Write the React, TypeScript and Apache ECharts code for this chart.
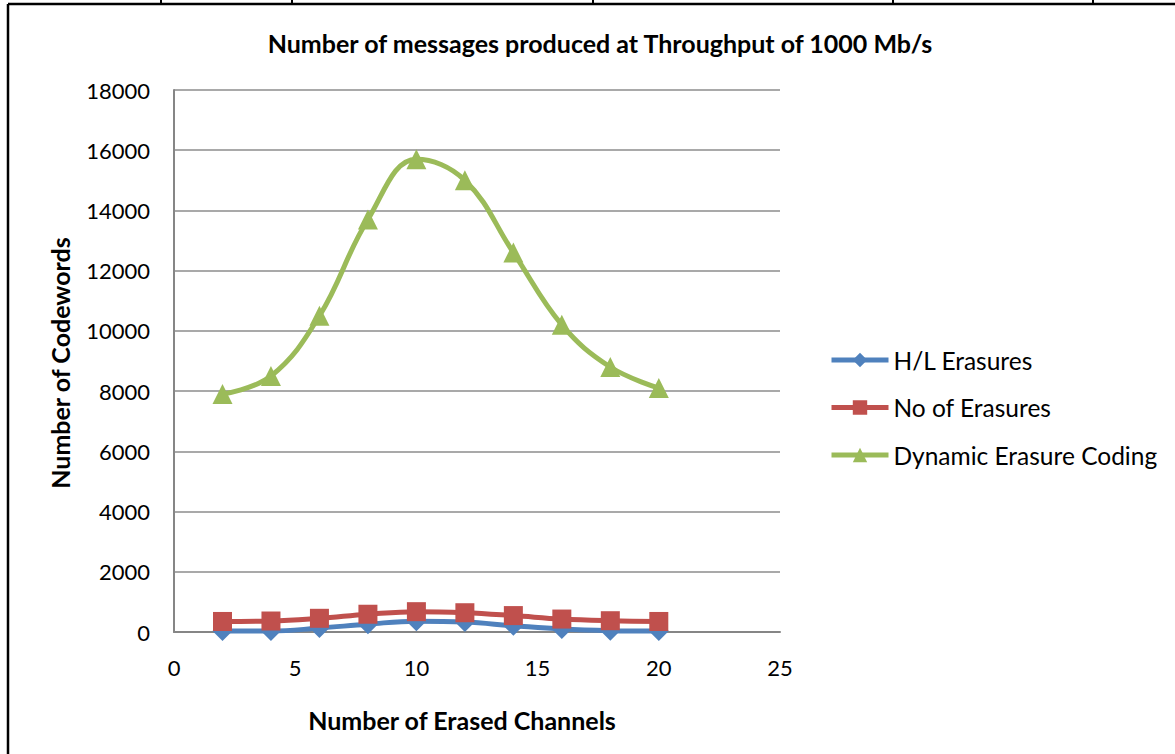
import React, { useEffect, useRef } from "react";
import * as echarts from "echarts";

const xValues = [2, 4, 6, 8, 10, 12, 14, 16, 18, 20];
const hlErasures = [30, 30, 130, 260, 360, 330, 210, 100, 45, 30];
const noOfErasures = [350, 365, 455, 590, 675, 640, 545, 430, 375, 350];
const dynamicErasure = [7900, 8500, 10500, 13700, 15700, 15000, 12600, 10200, 8800, 8100];
const seriesNames = ["H/L Erasures", "No of Erasures", "Dynamic Erasure Coding"];
const colors = ["#4F81BD", "#C0504D", "#9BBB59"];
const symbols = ["diamond", "rect", "triangle"];
const titleText = "Number of messages produced at Throughput of 1000 Mb/s";
const xTitle = "Number of Erased Channels";
const yTitle = "Number of Codewords";

const FONT = "Lato, 'Open Sans', sans-serif";

export default function App() {
  const ref = useRef<HTMLDivElement>(null);
  useEffect(() => {
    if (!ref.current) return;
    const chart = echarts.init(ref.current, null, { renderer: "svg" });
    const data = [hlErasures, noOfErasures, dynamicErasure];
    const tableXs = [161, 292, 593, 893, 1093];
    chart.setOption({
      animation: false,
      backgroundColor: "#ffffff",
      textStyle: { fontFamily: FONT },
      title: {
        text: titleText,
        left: 595,
        top: 25,
        textAlign: "center",
        textStyle: { fontFamily: FONT, fontWeight: "bold", fontSize: 25, color: "#000" },
      },
      grid: { left: 174, right: 395, top: 90, bottom: 122, containLabel: false },
      legend: {
        orient: "vertical",
        left: 824,
        top: 342,
        itemWidth: 57,
        itemHeight: 18,
        itemGap: 21.5,
        data: seriesNames,
        lineStyle: { width: 5 },
        textStyle: { fontFamily: FONT, fontSize: 24.5, color: "#000", lineHeight: 26 },
      },
      xAxis: {
        type: "value",
        min: 0,
        max: 25,
        interval: 5,
        axisLine: { show: true, lineStyle: { color: "#868686", width: 2 } },
        axisTick: { show: false },
        splitLine: { show: false },
        axisLabel: { fontFamily: FONT, fontSize: 22, color: "#000", margin: 24 },
      },
      yAxis: {
        type: "value",
        min: 0,
        max: 18000,
        interval: 2000,
        axisLine: { show: true, lineStyle: { color: "#868686", width: 2 } },
        axisTick: { show: false },
        splitLine: { show: true, lineStyle: { color: "#8c8c8c", width: 1.5 } },
        axisLabel: {
          fontFamily: FONT,
          fontSize: 22,
          color: "#000",
          margin: 24,
          formatter: (v: number) => String(v),
        },
      },
      graphic: [
        { type: "line", shape: { x1: 8, y1: 4, x2: 1175, y2: 4 }, style: { stroke: "#000", lineWidth: 2.5 } },
        { type: "line", shape: { x1: 8, y1: 4, x2: 8, y2: 754 }, style: { stroke: "#000", lineWidth: 2.5 } },
        ...tableXs.map((x) => ({
          type: "line",
          shape: { x1: x, y1: 0, x2: x, y2: 4 },
          style: { stroke: "#000", lineWidth: 2 },
        })),
        {
          type: "text",
          x: 462,
          y: 720,
          style: {
            text: xTitle,
            fontFamily: FONT,
            fontWeight: "bold",
            fontSize: 25,
            fill: "#000",
            align: "center",
            verticalAlign: "middle",
          },
        },
        {
          type: "text",
          x: 60,
          y: 363,
          rotation: Math.PI / 2,
          style: {
            text: yTitle,
            fontFamily: FONT,
            fontWeight: "bold",
            fontSize: 25,
            fill: "#000",
            align: "center",
            verticalAlign: "middle",
          },
        },
      ],
      series: seriesNames.map((name, i) => ({
        name,
        type: "line",
        smooth: 0.4,
        data: xValues.map((x, j) => [x, data[i][j]]),
        symbol: symbols[i],
        symbolSize: i === 1 ? 19 : 20,
        lineStyle: { color: colors[i], width: 5 },
        itemStyle: { color: colors[i] },
      })),
    });
    return () => chart.dispose();
  }, []);
  return (
    <div
      ref={ref}
      style={{ position: "fixed", left: 0, top: 0, width: 1175, height: 754, background: "#fff" }}
    />
  );
}
